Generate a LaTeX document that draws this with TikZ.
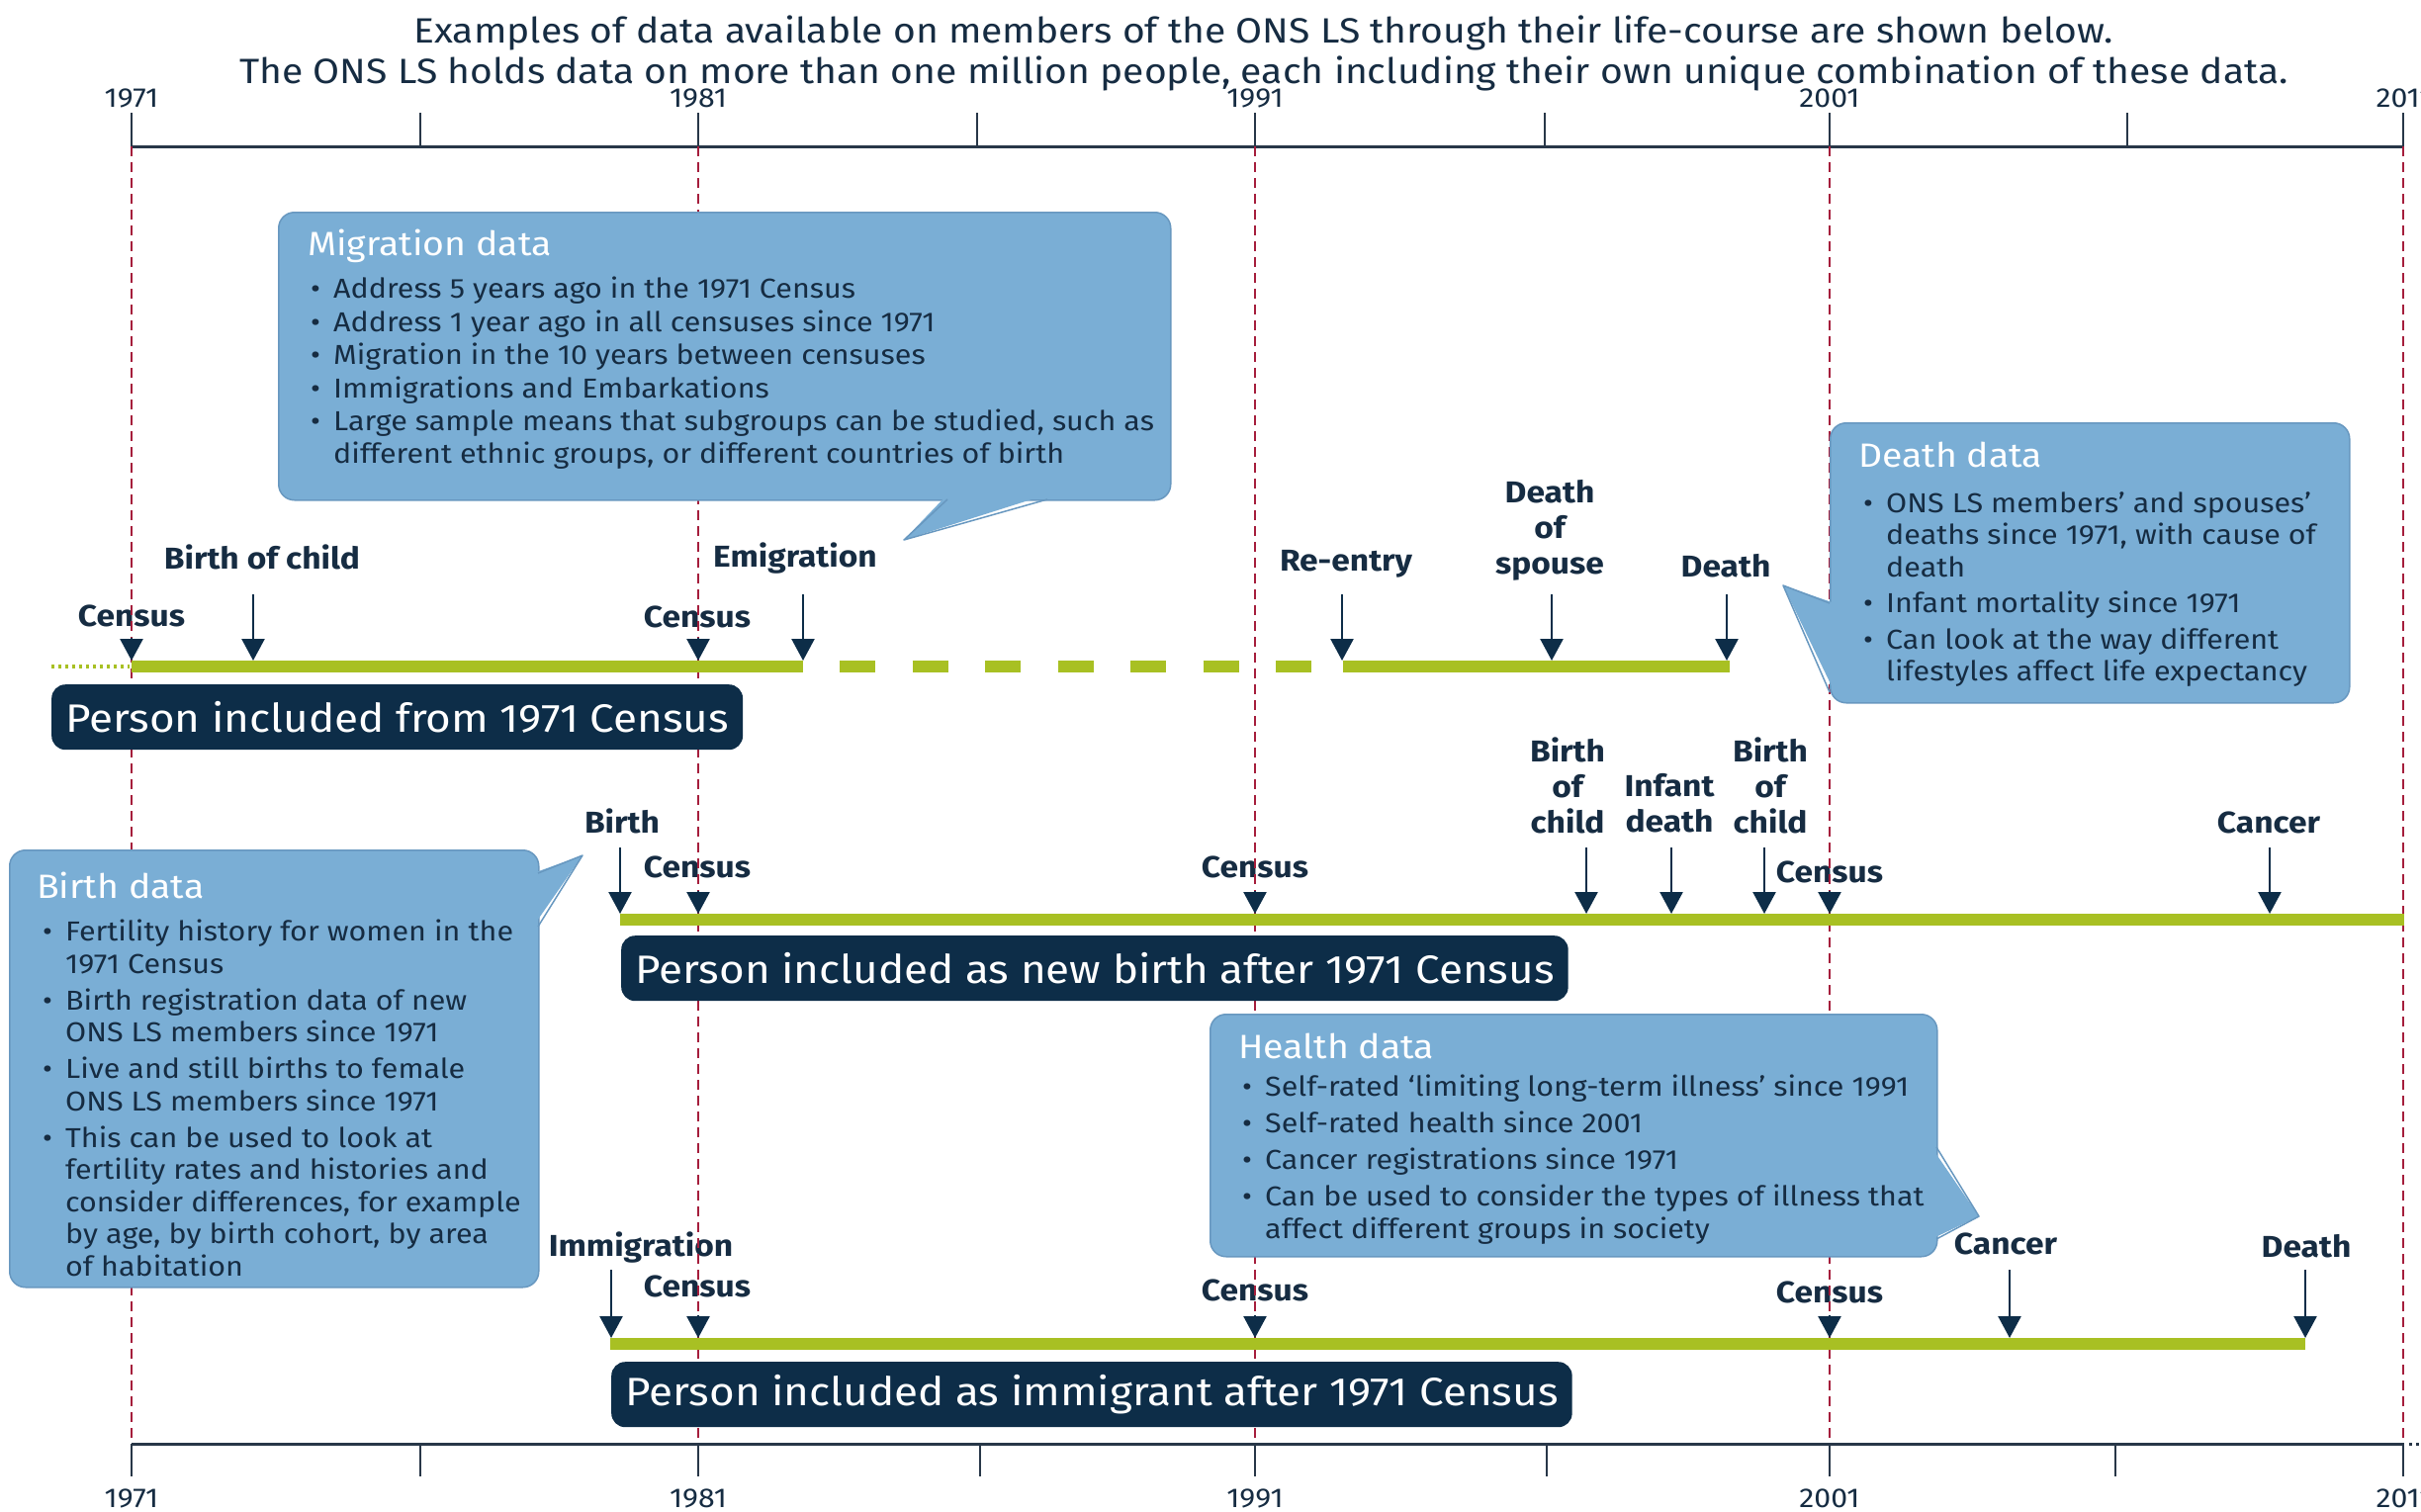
\documentclass[tikz,border=0pt]{standalone}
\usepackage{fontspec}
\setmainfont{Fira Sans}[FakeStretch=1.1]
\usetikzlibrary{arrows.meta}
\definecolor{navy}{RGB}{13,45,72}
\definecolor{txt}{RGB}{22,44,66}
\definecolor{callblue}{RGB}{122,174,213}
\definecolor{edgeblue}{RGB}{104,152,192}
\definecolor{gr}{RGB}{168,192,35}
\definecolor{redl}{RGB}{165,30,60}
\definecolor{axisc}{RGB}{40,55,72}
\newcommand{\bl}{\makebox[23pt][l]{\textbullet}}
\newcommand{\ind}{\hspace*{23pt}}
\newcommand{\EvA}[4]{\coordinate (#1s) at (#2,#3); \coordinate (#1e) at (#2,#4); \draw[evarrow] (#1s) -- (#1e);}
\tikzset{
 gline/.style={gr, line width=12pt},
 evarrow/.style={navy, line width=2.5pt, -{Triangle[width=23pt,length=22pt]}},
 evlabel/.style={txt, font=\fontsize{30.5}{36}\selectfont\bfseries, align=center, inner sep=0pt},
 yearlab/.style={txt, font=\fontsize{27.5}{30}\selectfont, inner sep=0pt},
 pbox/.style={fill=navy, text=white, rounded corners=14pt, anchor=north west, minimum height=66pt, inner xsep=14pt, inner ysep=0pt, font=\fontsize{40}{44}\selectfont},
 callbox/.style={fill=callblue, draw=edgeblue, line width=1.5pt, rounded corners=16pt, anchor=north west, inner sep=0pt},
 calloutline/.style={draw=edgeblue, line width=1.5pt, line join=round},
 calltitle/.style={white, font=\fontsize{34}{38}\selectfont, anchor=west, inner sep=0pt},
 callbody/.style={txt, font=\fontsize{27.7}{32.5}\selectfont, anchor=north west, align=left, inner sep=0pt},
 reddash/.style={redl, line width=2pt, dash pattern=on 10pt off 6pt},
 axisline/.style={axisc, line width=3pt},
 ticksty/.style={axisc, line width=2.5pt},
}
\begin{document}
\begin{tikzpicture}[x=1pt,y=-1pt]
\useasboundingbox (0,0) rectangle (2448,1528);
\fill[white] (0,0) rectangle (2448,1528);
% title
\node[txt, font=\fontsize{35.5}{41}\selectfont, align=center, inner sep=0pt] (title) at (1278,54)
 {Examples of data available on members of the ONS LS through their life-course are shown below.\\
  The ONS LS holds data on more than one million people, each including their own unique combination of these data.};
% axes
\draw[axisline] (133,148) -- (2431,148);
\draw[axisline] (133,1460) -- (2431,1460);
\draw[axisc, line width=3pt, dash pattern=on 3pt off 4pt] (2436,1460) -- (2448,1460);
\foreach \x in {133,425,706,988,1269,1562,1850,2151,2430} \draw[ticksty] (\x,148) -- (\x,114);
\foreach \x in {133,425,706,991,1269,1564,1850,2139,2430} \draw[ticksty] (\x,1460) -- (\x,1493);
\node[yearlab] (yt1) at (133,99) {1971};
\node[yearlab] (yt2) at (706,99) {1981};
\node[yearlab] (yt3) at (1269,99) {1991};
\node[yearlab] (yt4) at (1850,99) {2001};
\node[yearlab] (yt5) at (2431,99) {2011};
\node[yearlab] (yb1) at (133,1515) {1971};
\node[yearlab] (yb2) at (706,1515) {1981};
\node[yearlab] (yb3) at (1269,1515) {1991};
\node[yearlab] (yb4) at (1850,1515) {2001};
\node[yearlab] (yb5) at (2431,1515) {2011};
% event labels line 1
\node[evlabel] (l1c1) at (133,623) {Census};
\node[evlabel] (l1b) at (265,563) {Birth of child};
\node[evlabel] (l1c2) at (705,624) {Census};
\node[evlabel] (l1em) at (804,565) {Emigration};
\node[evlabel] (l1re) at (1361,570) {Re-entry};
\node[evlabel] (l1ds) at (1567,536) {Death\\of\\spouse};
\node[evlabel] (l1d) at (1745,572) {Death};
% event labels line 2
\node[evlabel] (l2b) at (629,830) {Birth};
\node[evlabel] (l2c1) at (705,877) {Census};
\node[evlabel] (l2c2) at (1269,877) {Census};
\node[evlabel] (l2bc1) at (1585,794) {Birth\\of\\child};
\node[evlabel] (l2id) at (1688,812) {Infant\\death};
\node[evlabel] (l2bc2) at (1790,794) {Birth\\of\\child};
\node[evlabel] (l2c3) at (1850,882) {Census};
\node[evlabel] (l2ca) at (2294,832) {Cancer};
% event labels line 3
\node[evlabel] (l3im) at (648,1262) {Immigration};
\node[evlabel] (l3c1) at (705,1301) {Census};
\node[evlabel] (l3c2) at (1269,1305) {Census};
\node[evlabel] (l3c3) at (1850,1307) {Census};
\node[evlabel] (l3ca) at (2028,1258) {Cancer};
\node[evlabel] (l3d) at (2332,1260) {Death};
% red census lines
\foreach \x in {133,706,1269,1850,2430} \draw[reddash] (\x,148) -- (\x,1460);
% green life lines
\draw[gr, line width=4pt, dash pattern=on 3pt off 4pt] (52,674) -- (131,674);
\draw[gline] (133,674) -- (812,674);
\draw[gline, dash pattern=on 36pt off 37.5pt] (849,674) -- (1326,674);
\draw[gline] (1358,674) -- (1749,674);
\draw[gline] (627,930) -- (2431,930);
\draw[gline] (617,1359) -- (2331,1359);
% arrows line 1
\EvA{a11}{133}{645}{668}
\EvA{a12}{256}{601}{668}
\EvA{a13}{706}{645}{668}
\EvA{a14}{812}{601}{668}
\EvA{a15}{1357}{601}{668}
\EvA{a16}{1569}{601}{668}
\EvA{a17}{1746}{601}{668}
% arrows line 2
\EvA{a21}{627}{857}{924}
\EvA{a22}{706}{901}{924}
\EvA{a23}{1269}{901}{924}
\EvA{a24}{1604}{857}{924}
\EvA{a25}{1690}{857}{924}
\EvA{a26}{1784}{857}{924}
\EvA{a27}{1850}{901}{924}
\EvA{a28}{2295}{857}{924}
% arrows line 3
\EvA{a31}{618}{1284}{1353}
\EvA{a32}{706}{1330}{1353}
\EvA{a33}{1269}{1330}{1353}
\EvA{a34}{1850}{1330}{1353}
\EvA{a35}{2032}{1284}{1353}
\EvA{a36}{2331}{1284}{1353}
% person boxes
\node[pbox] (p1) at (52,692) {Person included from 1971 Census};
\node[pbox] (p2) at (628,946) {Person included as new birth after 1971 Census};
\node[pbox] (p3) at (618,1377) {Person included as immigrant after 1971 Census};
% migration callout
\node[callbox, minimum width=902pt, minimum height=291pt] (mig) at (281,214) {};
\fill[callblue] (958,500) -- (1059,500) -- (914,546) -- cycle;
\draw[calloutline] (958,505) -- (914,546) -- (1059,505);
\node[calltitle] (migt) at (311,249) {Migration data};
\node[callbody] (migb) at (314,280) {\bl Address 5 years ago in the 1971 Census\\[1pt]
\bl Address 1 year ago in all censuses since 1971\\[1pt]
\bl Migration in the 10 years between censuses\\[1pt]
\bl Immigrations and Embarkations\\[1pt]
\bl Large sample means that subgroups can be studied, such as\\
\ind different ethnic groups, or different countries of birth};
% death callout
\node[callbox, minimum width=525pt, minimum height=283pt] (dth) at (1850,427) {};
\fill[callblue] (1855,610) -- (1855,700) -- (1803,592) -- cycle;
\draw[calloutline] (1850,610) -- (1803,592) -- (1850,700);
\node[calltitle] (dtht) at (1879,460) {Death data};
\node[callbody] (dthb) at (1884,497) {\bl ONS LS members’ and spouses’\\
\ind deaths since 1971, with cause of\\
\ind death\\[4pt]
\bl Infant mortality since 1971\\[4pt]
\bl Can look at the way different\\
\ind lifestyles affect life expectancy};
% birth callout
\node[callbox, minimum width=535pt, minimum height=442pt] (brt) at (9,859) {};
\fill[callblue] (539,883) -- (539,937) -- (589,865) -- cycle;
\draw[calloutline] (544,883) -- (589,865) -- (544,937);
\node[calltitle] (brtt) at (37,895) {Birth data};
\node[callbody] (brtb) at (43,930) {\bl Fertility history for women in the\\
\ind 1971 Census\\[4.5pt]
\bl Birth registration data of new\\
\ind ONS LS members since 1971\\[4.5pt]
\bl Live and still births to female\\
\ind ONS LS members since 1971\\[4.5pt]
\bl This can be used to look at\\
\ind fertility rates and histories and\\
\ind consider differences, for example\\
\ind by age, by birth cohort, by area\\
\ind of habitation};
% health callout
\node[callbox, minimum width=735pt, minimum height=245pt] (hlt) at (1223,1025) {};
\fill[callblue] (1953,1160) -- (1953,1253) -- (2001,1230) -- cycle;
\draw[calloutline] (1958,1160) -- (2001,1230) -- (1958,1253);
\node[calltitle] (hltt) at (1252,1058) {Health data};
\node[callbody] (hltb) at (1256,1087) {\bl Self-rated ‘limiting long-term illness’ since 1991\\[4.5pt]
\bl Self-rated health since 2001\\[4.5pt]
\bl Cancer registrations since 1971\\[4.5pt]
\bl Can be used to consider the types of illness that\\
\ind affect different groups in society};
\end{tikzpicture}
\end{document}
